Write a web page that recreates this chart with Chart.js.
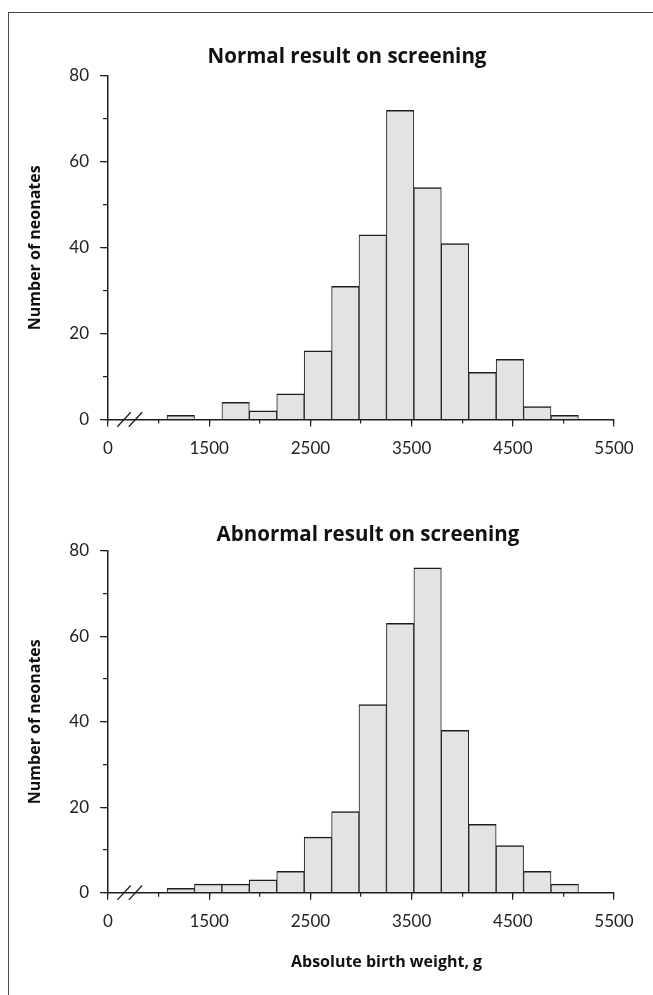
<!DOCTYPE html>
<html>
<head>
<meta charset="utf-8">
<title>Absolute birth weight histograms</title>
<script src="https://cdn.jsdelivr.net/npm/chart.js@4.4.1/dist/chart.umd.min.js"></script>
<style>
  html, body { margin: 0; padding: 0; background: #fff; }
  body { width: 653px; height: 995px; position: relative; overflow: hidden; }
  #frame { position: absolute; left: 8px; top: 12px; width: 720px; height: 1020px;
           border: 1.5px solid #4a4a4a; box-sizing: border-box; }
  canvas { position: absolute; left: 0; }
  #normalChart { top: 0; }
  #abnormalChart { top: 480px; }
</style>
</head>
<body>
<div id="frame"></div>
<canvas id="normalChart" width="653" height="480"></canvas>
<canvas id="abnormalChart" width="653" height="515"></canvas>
<script>

// histogram bins (midpoint of each bin, g)
const binCenters = [1219, 1490, 1761, 2032, 2303, 2574, 2845, 3116, 3387, 3658, 3929, 4200, 4471, 4742, 5013];

// number of neonates per bin
const normalCounts   = [1, 0, 4, 2, 6, 16, 31, 43, 72, 54, 41, 11, 14, 3, 1];
const abnormalCounts = [1, 2, 2, 3, 5, 13, 19, 44, 63, 76, 38, 16, 11, 5, 2];

// the axis is broken: its first tick stands for 0
const xTickLabels = ['0', '1500', '2500', '3500', '4500', '5500'];

const INK = '#1e1e1e';

// free text: panel titles and the x axis title
const panelText = {
  id: 'panelText',
  afterDraw(chart, args, opts) {
    const ctx = chart.ctx;
    ctx.save();
    ctx.fillStyle = '#111';
    ctx.textBaseline = 'middle';
    (opts.items || []).forEach(function(item) {
      ctx.font = item.font;
      ctx.textAlign = item.align || 'center';
      ctx.fillText(item.text, item.x, item.y);
    });
    ctx.restore();
  }
};

// the two slashes on the x axis near 0
const axisBreak = {
  id: 'axisBreak',
  afterDraw(chart, args, opts) {
    const ctx = chart.ctx;
    const cx = chart.scales.x.getPixelForValue(opts.at);
    const y = chart.chartArea.bottom;
    ctx.save();
    ctx.strokeStyle = INK;
    ctx.lineWidth = 1.3;
    [-5.7, 5.7].forEach(function(off) {
      ctx.beginPath();
      ctx.moveTo(cx + off - 6.7, y + 7.2);
      ctx.lineTo(cx + off + 6.7, y - 7.2);
      ctx.stroke();
    });
    ctx.restore();
  }
};

function makeChart(canvasId, counts, opt) {
  const points = binCenters.map(function(x, i) { return { x: x, y: counts[i] }; });

  return new Chart(document.getElementById(canvasId), {
    type: 'bar',
    data: {
      datasets: [{
        data: points,
        backgroundColor: '#e3e3e3',
        borderColor: INK,
        borderWidth: { top: 1.5, left: 1, right: 1, bottom: 0 },
        borderSkipped: 'start',
        categoryPercentage: 1,
        barPercentage: 1
      }]
    },
    options: {
      responsive: false,
      animation: false,
      layout: { padding: { top: opt.padTop, right: 39, bottom: 0, left: 0 } },
      plugins: {
        legend: { display: false },
        tooltip: { enabled: false },
        title: { display: false },
        panelText: { items: opt.texts },
        axisBreak: { at: 715 }
      },
      scales: {
        x: {
          type: 'linear',
          position: 'bottom',
          offset: false,
          weight: 1,
          min: 500,
          max: 5500,
          afterFit: function(scale) { scale.height = opt.xAxisHeight; },
          ticks: {
            stepSize: 1000,
            padding: 12,
            color: '#222',
            font: { family: 'Lato', size: 17 },
            maxRotation: 0,
            callback: function(value, index) { return xTickLabels[index]; }
          },
          grid: { offset: false, drawOnChartArea: false, drawTicks: true, tickLength: 7, color: INK, lineWidth: 1.2 },
          border: { display: true, color: INK, width: 1.5 }
        },
        xMinor: {
          type: 'linear',
          position: 'bottom',
          offset: false,
          weight: 0,
          min: 500,
          max: 5500,
          afterFit: function(scale) { scale.height = 0; },
          ticks: { stepSize: 500, display: false },
          grid: { offset: false, drawOnChartArea: false, drawTicks: true, tickLength: 4, color: INK, lineWidth: 1.2 },
          border: { display: false }
        },
        y: {
          type: 'linear',
          position: 'left',
          weight: 1,
          min: 0,
          max: 80,
          afterFit: function(scale) { scale.width = 108; },
          ticks: {
            stepSize: 20,
            padding: 11,
            color: '#222',
            font: { family: 'Lato', size: 17 }
          },
          title: {
            display: true,
            text: 'Number of neonates',
            color: '#111',
            font: { family: 'Open Sans', size: 16, weight: 'bold' },
            padding: { top: 26, bottom: 0 }
          },
          grid: { drawOnChartArea: false, drawTicks: true, tickLength: 8, color: INK, lineWidth: 1.2 },
          border: { display: true, color: INK, width: 1.5 }
        },
        yMinor: {
          type: 'linear',
          position: 'left',
          weight: 0,
          min: 0,
          max: 80,
          afterFit: function(scale) { scale.width = 0; },
          ticks: { stepSize: 10, display: false },
          grid: { drawOnChartArea: false, drawTicks: true, tickLength: 5, color: INK, lineWidth: 1.2 },
          border: { display: false }
        }
      }
    },
    plugins: [panelText, axisBreak]
  });
}

const TITLE_FONT = 'bold 20.5px "Open Sans"';
const AXIS_FONT = 'bold 16px "Open Sans"';

makeChart('normalChart', normalCounts, {
  padTop: 76,
  xAxisHeight: 60.5,
  texts: [
    { text: 'Normal result on screening', x: 347, y: 57, font: TITLE_FONT }
  ]
});

makeChart('abnormalChart', abnormalCounts, {
  padTop: 70.7,
  xAxisHeight: 102.3,
  texts: [
    { text: 'Abnormal result on screening', x: 368, y: 55, font: TITLE_FONT },
    { text: 'Absolute birth weight, g', x: 291, y: 482, font: AXIS_FONT, align: 'left' }
  ]
});

</script>
</body>
</html>
